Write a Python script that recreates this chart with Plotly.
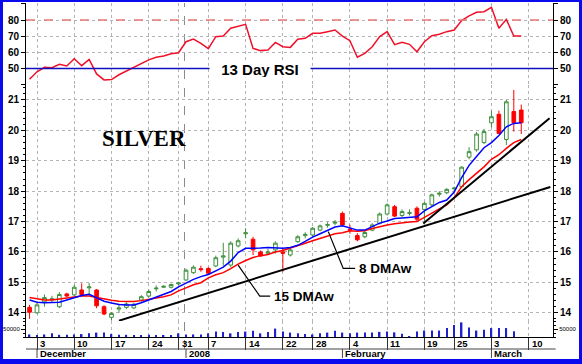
import plotly.graph_objects as go

# ---------------- data (trading-day index: Dec 3 2007 = 0) ----------------
idx = list(range(-1, 66))
opens = [14.18, 14.00, 14.36, 14.43, 14.20, 14.62, 14.59, 14.75, 14.82, 14.75,
         14.20, 13.85, 14.12, 14.18, 14.16, 14.42, 14.55, 14.79, 14.84, 14.84,
         14.95, 15.08, 15.32, 15.45, 15.46, 15.54, 15.83, 15.57, 16.20, 16.60,
         16.42, 16.00, 15.96, 16.07, 16.00, 15.90, 16.34, 16.54, 16.56, 16.72,
         16.88, 16.95, 17.27, 16.75, 16.54, 16.50, 16.72, 16.94, 17.25, 17.49,
         17.20, 17.27, 17.44, 17.40, 17.55, 17.90, 17.95, 18.08, 18.15, 19.12,
         19.36, 19.60, 20.25, 20.53, 19.70, 20.62, 20.67]
highs = [14.26, 14.33, 14.60, 14.56, 14.68, 14.66, 14.92, 14.97, 14.98, 14.78,
         14.25, 14.02, 14.30, 14.35, 14.32, 14.58, 14.76, 14.90, 14.90, 14.96,
         15.02, 15.45, 15.56, 15.55, 15.50, 15.88, 16.30, 16.35, 16.45, 16.78,
         16.50, 16.05, 16.10, 16.35, 16.10, 16.12, 16.55, 16.65, 16.82, 16.90,
         16.98, 17.05, 17.33, 16.90, 16.62, 16.70, 16.95, 17.30, 17.60, 17.55,
         17.40, 17.40, 17.50, 17.65, 17.92, 18.00, 18.10, 18.15, 18.82, 19.45,
         19.95, 20.05, 20.65, 20.65, 21.00, 21.33, 20.85]
lows = [13.80, 13.97, 14.20, 14.36, 14.15, 14.52, 14.55, 14.55, 14.60, 14.15,
        13.92, 13.76, 14.00, 14.12, 14.12, 14.36, 14.50, 14.70, 14.82, 14.80,
        14.90, 15.05, 15.28, 15.35, 15.28, 15.50, 15.55, 15.50, 16.15, 16.45,
        15.90, 15.85, 15.90, 15.95, 15.35, 15.85, 16.30, 16.45, 16.50, 16.68,
        16.80, 16.88, 16.85, 16.60, 16.35, 16.45, 16.68, 16.90, 17.20, 17.15,
        17.15, 17.20, 17.00, 17.00, 17.50, 17.82, 17.90, 18.00, 18.10, 19.05,
        19.30, 19.55, 20.10, 19.88, 19.52, 19.96, 19.88]
closes = [14.02, 14.26, 14.50, 14.46, 14.60, 14.55, 14.84, 14.60, 14.85, 14.23,
          13.96, 13.98, 14.16, 14.29, 14.28, 14.53, 14.70, 14.81, 14.87, 14.93,
          14.98, 15.40, 15.50, 15.42, 15.30, 15.81, 15.87, 16.29, 16.37, 16.63,
          16.07, 15.87, 16.00, 16.29, 15.96, 16.07, 16.50, 16.58, 16.78, 16.86,
          16.90, 16.98, 16.89, 16.73, 16.40, 16.64, 16.89, 17.25, 17.55, 17.18,
          17.33, 17.29, 17.08, 17.60, 17.88, 17.93, 18.06, 18.10, 18.79, 19.30,
          19.88, 19.96, 20.45, 19.90, 20.94, 20.25, 20.25]
ma8 = [14.42, 14.35, 14.33, 14.33, 14.35, 14.42, 14.50, 14.57, 14.61, 14.50,
       14.38, 14.32, 14.27, 14.26, 14.26, 14.33, 14.42, 14.52, 14.62, 14.70,
       14.85, 14.97, 15.10, 15.19, 15.26, 15.38, 15.50, 15.70, 15.98, 16.12,
       16.12, 16.13, 16.15, 16.13, 16.12, 16.15, 16.22, 16.35, 16.49, 16.60,
       16.72, 16.82, 16.86, 16.80, 16.72, 16.72, 16.84, 16.95, 17.02, 17.10,
       17.12, 17.14, 17.16, 17.35, 17.50, 17.63, 17.71, 17.97, 18.45, 18.85,
       19.14, 19.43, 19.60, 19.83, 20.12, 20.23, 20.25]
ma15 = [14.50, 14.45, 14.42, 14.42, 14.45, 14.48, 14.52, 14.55, 14.55, 14.50,
        14.44, 14.41, 14.38, 14.37, 14.37, 14.40, 14.44, 14.48, 14.53, 14.59,
        14.72, 14.82, 14.92, 14.99, 15.15, 15.25, 15.32, 15.45, 15.60, 15.72,
        15.82, 15.88, 15.92, 16.00, 16.05, 16.13, 16.22, 16.29, 16.37, 16.45,
        16.52, 16.60, 16.63, 16.70, 16.68, 16.70, 16.77, 16.84, 16.89, 16.93,
        16.97, 16.99, 17.00, 17.13, 17.28, 17.42, 17.55, 17.78, 18.15, 18.38,
        18.59, 18.80, 19.05, 19.20, 19.41, 19.60, 19.70]
rsi = [43.4, 48.0, 50.8, 50.6, 52.6, 51.6, 56.1, 51.8, 55.7, 46.7,
       43.0, 43.2, 46.2, 48.5, 50.5, 53.0, 55.4, 57.0, 57.8, 59.2,
       59.8, 66.6, 68.2, 65.6, 62.3, 69.7, 70.1, 74.9, 75.9, 77.3,
       62.5, 61.1, 61.5, 66.2, 63.5, 63.1, 68.1, 68.7, 71.8, 71.8,
       72.8, 73.8, 70.1, 67.2, 57.0, 59.4, 63.5, 69.8, 72.8, 64.8,
       66.2, 65.0, 60.4, 66.6, 70.3, 71.2, 72.8, 73.8, 79.6, 82.5,
       84.8, 85.1, 87.8, 74.9, 80.4, 70.1, 70.1]
vol_idx = list(range(-1, 65))
volume = [16600, 11900, 16600, 23750, 14250, 14250, 16600, 19000, 23750, 28500,
          28500, 19000, 14250, 14250, 9500, 7100, 14250, 11900, 9500, 7100,
          23750, 16600, 16600, 16600, 23750, 35600, 33250, 23750, 33250, 35600,
          40400, 23750, 33250, 54600, 35600, 28500, 23750, 19000, 16600, 23750,
          28500, 40400, 28500, 23750, 28500, 28500, 28500, 33250, 36000, 30000,
          21000, 6000, 36000, 42000, 42000, 42000, 58000, 78000, 95000, 61000,
          42000, 47000, 58000, 58000, 58000, 38000]

day_tick_idx = [0, 5, 10, 15, 19, 23, 28, 33, 37, 42, 47, 52, 56, 61, 66]
day_tick_text = ['3', '10', '17', '24', '31', '7', '14', '22', '28', '4',
                 '11', '19', '25', '3', '10']
month_idx = [0, 20, 41, 61]
month_text = ['December', '2008', 'February', 'March']
year_break_idx = 20

trend_long_x = [11.0, 68.9]
trend_long_y = [13.74, 18.14]
trend_steep_x = [51.85, 68.8]
trend_steep_y = [16.94, 20.40]
ptr8_x = [39.1, 41.1, 42.7]
ptr8_y = [16.67, 15.46, 15.46]
ptr15_x = [27.0, 29.9, 31.3]
ptr15_y = [15.57, 14.55, 14.55]

# ---------------- layout geometry ----------------
W, H = 582, 364
L, R, T, B = 26, 29, 3, 27
PH = H - T - B


def py(p):
    """pixel row -> paper y"""
    return (H - B - p) / PH


def px(p):
    """pixel column -> paper x"""
    return (p - L) / (W - L - R)


FONT = "Liberation Sans, Arial, sans-serif"
GRID = '#b4b4b4'
UP = '#3d8f3d'
DOWN = '#ff0000'

fig = go.Figure()

# RSI
fig.add_trace(go.Scatter(x=idx, y=rsi, mode='lines', yaxis='y', xaxis='x',
                         line=dict(color='#f0102a', width=1.5), hoverinfo='skip'))
# candles
fig.add_trace(go.Candlestick(x=idx, open=opens, high=highs, low=lows, close=closes,
                             xaxis='x', yaxis='y2', whiskerwidth=0,
                             increasing=dict(line=dict(color=UP, width=1), fillcolor='white'),
                             decreasing=dict(line=dict(color=DOWN, width=1), fillcolor=DOWN),
                             hoverinfo='skip'))
fig.add_trace(go.Scatter(x=idx, y=ma15, mode='lines', yaxis='y2',
                         line=dict(color='#ff0000', width=1.5), hoverinfo='skip'))
fig.add_trace(go.Scatter(x=idx, y=ma8, mode='lines', yaxis='y2',
                         line=dict(color='#0000ff', width=1.5), hoverinfo='skip'))
for tx, ty in [(trend_long_x, trend_long_y), (trend_steep_x, trend_steep_y)]:
    fig.add_trace(go.Scatter(x=tx, y=ty, mode='lines', yaxis='y2',
                             line=dict(color='black', width=2), hoverinfo='skip'))
for tx, ty in [(ptr8_x, ptr8_y), (ptr15_x, ptr15_y)]:
    fig.add_trace(go.Scatter(x=tx, y=ty, mode='lines', yaxis='y2',
                             line=dict(color='black', width=1.2), hoverinfo='skip'))
# volume
fig.add_trace(go.Bar(x=vol_idx, y=volume, yaxis='y3', width=0.2,
                     marker=dict(color='#2020d0', line=dict(width=0)), hoverinfo='skip'))
# invisible companions for right-hand axes
fig.add_trace(go.Scatter(x=idx, y=rsi, yaxis='y4', mode='lines', opacity=0,
                         line=dict(width=0), hoverinfo='skip'))
fig.add_trace(go.Scatter(x=idx, y=closes, yaxis='y5', mode='lines', opacity=0,
                         line=dict(width=0), hoverinfo='skip'))
fig.add_trace(go.Scatter(x=vol_idx, y=volume, yaxis='y6', mode='lines', opacity=0,
                         line=dict(width=0), hoverinfo='skip'))

rsi_dom = [py(85), 1.0]
price_dom = [py(321), py(85)]
vol_dom = [0.0, py(321)]
rsi_rng = [39.88, 90.49]
price_rng = [13.73, 21.493]
vol_rng = [0, 103900]
x_rng = [(L - 37) / 7.45, (W - R - 37) / 7.45]

tickfont = dict(family=FONT, size=10, color='black', weight='bold')
yax_common = dict(showline=True, linecolor='black', linewidth=1, ticks='outside',
                  ticklen=4, tickcolor='black', tickfont=tickfont, zeroline=False,
                  fixedrange=True)
volfont = dict(family=FONT, size=6, color='black')

rsi_ticks = [50, 60, 70, 80]
price_ticks = [14, 15, 16, 17, 18, 19, 20, 21]

fig.update_layout(
    width=W, height=H, margin=dict(l=L, r=R, t=T, b=B),
    paper_bgcolor='white', plot_bgcolor='white', showlegend=False,
    font=dict(family=FONT, color='black'),
    xaxis=dict(range=x_rng, anchor='y3', showline=True, linecolor='black',
               tickvals=day_tick_idx, showticklabels=False, ticks='outside',
               ticklen=12, tickcolor='#333', showgrid=True, gridcolor=GRID,
               griddash='dot', gridwidth=1, zeroline=False,
               rangeslider=dict(visible=False), fixedrange=True),
    yaxis=dict(domain=rsi_dom, range=rsi_rng, anchor='x', tickvals=rsi_ticks,
               showgrid=True, gridcolor=GRID, griddash='dot',
               minor=dict(tickvals=[40, 90], ticks='outside', ticklen=4, tickcolor='black'),
               **yax_common),
    yaxis2=dict(domain=price_dom, range=price_rng, anchor='x', tickvals=price_ticks,
                showgrid=True, gridcolor=GRID, griddash='dot',
                minor=dict(dtick=0.2, ticks='outside', ticklen=2, tickcolor='black'),
                **yax_common),
    yaxis3=dict(domain=vol_dom, range=vol_rng, anchor='x', tickvals=[50000],
                ticktext=['50000'], showgrid=False,
                minor=dict(dtick=25000, ticks='outside', ticklen=2, tickcolor='black'),
                **{**yax_common, 'tickfont': volfont}),
    yaxis4=dict(overlaying='y', side='right', anchor='x', range=rsi_rng,
                tickvals=rsi_ticks, showgrid=False,
                minor=dict(tickvals=[40, 90], ticks='outside', ticklen=4, tickcolor='black'),
                **yax_common),
    yaxis5=dict(overlaying='y2', side='right', anchor='x', range=price_rng,
                tickvals=price_ticks, showgrid=False,
                minor=dict(dtick=0.2, ticks='outside', ticklen=2, tickcolor='black'),
                **yax_common),
    yaxis6=dict(overlaying='y3', side='right', anchor='x', range=vol_rng,
                tickvals=[50000], ticktext=['50000'], showgrid=False,
                minor=dict(dtick=25000, ticks='outside', ticklen=2, tickcolor='black'),
                **{**yax_common, 'tickfont': volfont}),
)

shapes = []
# RSI reference lines
shapes.append(dict(type='line', xref='paper', yref='y', x0=0, x1=1, y0=80, y1=80,
                   line=dict(color='#e87878', width=1.5, dash='dash'), layer='above'))
shapes.append(dict(type='line', xref='paper', yref='y', x0=0, x1=1, y0=50, y1=50,
                   line=dict(color='#1010c0', width=1.5), layer='above'))
# year boundary
shapes.append(dict(type='line', xref='x', yref='paper', x0=year_break_idx - 0.2,
                   x1=year_break_idx - 0.2, y0=py(349), y1=1,
                   line=dict(color='#8a8a8a', width=1, dash='dash'), layer='below'))
# date rows
shapes.append(dict(type='line', xref='paper', yref='paper', x0=0, x1=1.005,
                   y0=py(349), y1=py(349), line=dict(color='#444', width=1)))
for m in month_idx:
    shapes.append(dict(type='line', xref='x', yref='paper', x0=m, x1=m,
                       y0=py(349), y1=py(358), line=dict(color='#444', width=1)))
# blue frame
blue = '#0a0aee'
shapes += [
    dict(type='rect', xref='paper', yref='paper', x0=px(0), x1=px(3), y0=py(H), y1=py(0),
         fillcolor=blue, line=dict(width=0)),
    dict(type='rect', xref='paper', yref='paper', x0=px(W - 3), x1=px(W), y0=py(H), y1=py(0),
         fillcolor=blue, line=dict(width=0)),
    dict(type='rect', xref='paper', yref='paper', x0=px(0), x1=px(W), y0=py(2), y1=py(0),
         fillcolor=blue, line=dict(width=0)),
    dict(type='rect', xref='paper', yref='paper', x0=px(0), x1=px(W), y0=py(H), y1=py(359),
         fillcolor=blue, line=dict(width=0)),
]
fig.update_layout(shapes=shapes)

datefont = dict(family=FONT, size=9.5, color='black', weight='bold')
ann = []
for i, t in zip(day_tick_idx, day_tick_text):
    ann.append(dict(x=i, y=py(343.5), xref='x', yref='paper', text=t, showarrow=False,
                    xanchor='left', yanchor='middle', xshift=1, font=datefont))
for i, t in zip(month_idx, month_text):
    ann.append(dict(x=i, y=py(354), xref='x', yref='paper', text=t, showarrow=False,
                    xanchor='left', yanchor='middle', xshift=1, font=datefont))
ann.append(dict(x=14.36, y=19.72, xref='x', yref='y2', text='<b>SILVER</b>', showarrow=False,
                font=dict(family='Liberation Serif, Times New Roman, serif', size=23, color='black')))
ann.append(dict(x=29.9, y=50, xref='x', yref='y', text='<b>13 Day RSI</b>', showarrow=False,
                bgcolor='white', width=100, height=16, borderpad=0,
                font=dict(family=FONT, size=15, color='black')))
ann.append(dict(x=ptr8_x[-1] + 0.3, y=ptr8_y[-1], xref='x', yref='y2', text='<b>8 DMAw</b>',
                showarrow=False, xanchor='left', yanchor='middle',
                font=dict(family=FONT, size=13.5, color='black')))
ann.append(dict(x=ptr15_x[-1] + 0.2, y=ptr15_y[-1], xref='x', yref='y2', text='<b>15 DMAw</b>',
                showarrow=False, xanchor='left', yanchor='middle',
                font=dict(family=FONT, size=13.5, color='black')))
fig.update_layout(annotations=ann)

fig.write_html("out.html", config={'displayModeBar': False},
               post_script="document.body.style.margin='0px';document.body.style.overflow='hidden';")
